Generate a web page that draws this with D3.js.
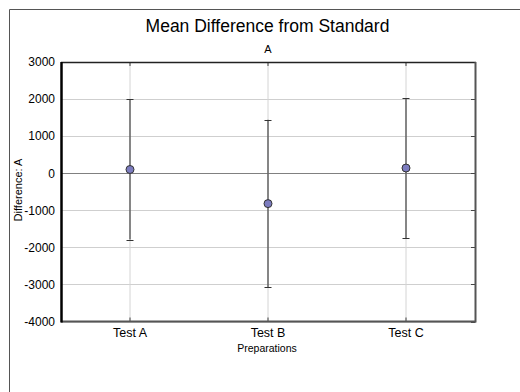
<!DOCTYPE html>
<html><head><meta charset="utf-8">
<script src="https://cdn.jsdelivr.net/npm/d3@7"></script>
<style>body{margin:0;background:#fff}svg{display:block;font-family:"Liberation Sans",Arial,sans-serif}</style>
</head><body>
<svg id="c" width="520" height="392"></svg>
<script>
const categories = ["Test A", "Test B", "Test C"];
const means = [100, -820, 140];
const upper = [1990, 1440, 2030];
const lower = [-1790, -3080, -1750];
const yTicks = [3000, 2000, 1000, 0, -1000, -2000, -3000, -4000];

const svg = d3.select("#c");
const L = 61, T = 62, R = 475, B = 321.5;
const x = d3.scaleBand().domain(categories).range([L, R]);
const y = d3.scaleLinear().domain([-4000, 3000]).range([B, T]);
const cx = d => x(d) + x.bandwidth() / 2;
const FF = "Liberation Sans, Arial, sans-serif";

// outer frame
svg.append("path").attr("d", "M9.5,392 V9.5 H520").attr("fill", "none").attr("stroke", "#555").attr("stroke-width", 1);

// grid
svg.append("g").selectAll("line").data(yTicks).join("line")
  .attr("x1", L).attr("x2", R).attr("y1", d => Math.round(y(d)) + 0.5).attr("y2", d => Math.round(y(d)) + 0.5)
  .attr("stroke", d => d === 0 ? "#808080" : "#cfcfcf").attr("stroke-width", 1);
svg.append("g").selectAll("line").data(categories).join("line")
  .attr("x1", d => cx(d)).attr("x2", d => cx(d)).attr("y1", T).attr("y2", B)
  .attr("stroke", "#d4d4d4");

// inner ticks right side and top/bottom
svg.append("g").selectAll("line").data(yTicks).join("line")
  .attr("x1", R - 4).attr("x2", R).attr("y1", d => Math.round(y(d)) + 0.5).attr("y2", d => Math.round(y(d)) + 0.5)
  .attr("stroke", "#444");
svg.append("g").selectAll("line").data(categories).join("line")
  .attr("x1", d => cx(d)).attr("x2", d => cx(d)).attr("y1", T).attr("y2", T + 4).attr("stroke", "#444");
svg.append("g").selectAll("line").data(categories).join("line")
  .attr("x1", d => cx(d)).attr("x2", d => cx(d)).attr("y1", B - 4).attr("y2", B).attr("stroke", "#444");

// plot border
svg.append("line").attr("x1", L).attr("x2", R + 1).attr("y1", T + 0.5).attr("y2", T + 0.5).attr("stroke", "#222").attr("stroke-width", 1.5);
svg.append("line").attr("x1", R + 0.5).attr("x2", R + 0.5).attr("y1", T).attr("y2", B + 1).attr("stroke", "#555").attr("stroke-width", 2);
svg.append("line").attr("x1", L).attr("x2", R + 1).attr("y1", B).attr("y2", B).attr("stroke", "#555").attr("stroke-width", 2);
svg.append("line").attr("x1", L + 0.5).attr("x2", L + 0.5).attr("y1", T).attr("y2", B + 1).attr("stroke", "#000").attr("stroke-width", 2.5);

// y axis labels
const yAxis = d3.axisLeft(y).tickValues(yTicks).tickSize(0).tickPadding(5).tickFormat(d => String(d));
const ya = svg.append("g").attr("transform", `translate(${L - 1},0)`).call(yAxis);
ya.select(".domain").remove();
ya.selectAll("text").attr("font-size", 12).attr("fill", "#000").attr("font-family", FF);

// x axis labels
const xAxis = d3.axisBottom(x).tickSize(0).tickPadding(7);
const xa = svg.append("g").attr("transform", `translate(0,${B})`).call(xAxis);
xa.select(".domain").remove();
xa.selectAll("text").attr("font-size", 12.5).attr("fill", "#000").attr("font-family", FF);

// error bars
const eb = svg.append("g");
categories.forEach((c, i) => {
  const px = cx(c);
  eb.append("line").attr("x1", px).attr("x2", px).attr("y1", y(upper[i])).attr("y2", y(lower[i])).attr("stroke", "#444").attr("stroke-width", 1.2);
  eb.append("line").attr("x1", px - 3.5).attr("x2", px + 3.5).attr("y1", Math.round(y(upper[i])) + 0.5).attr("y2", Math.round(y(upper[i])) + 0.5).attr("stroke", "#333");
  eb.append("line").attr("x1", px - 3.5).attr("x2", px + 3.5).attr("y1", Math.round(y(lower[i])) + 0.5).attr("y2", Math.round(y(lower[i])) + 0.5).attr("stroke", "#333");
});
svg.append("g").selectAll("circle").data(categories).join("circle")
  .attr("cx", d => cx(d)).attr("cy", (d, i) => y(means[i])).attr("r", 4)
  .attr("fill", "#7c7cbf").attr("stroke", "#333").attr("stroke-width", 1);

// titles
svg.append("text").attr("x", 267.5).attr("y", 32).attr("text-anchor", "middle").attr("font-size", 17.5).attr("font-family", FF).text("Mean Difference from Standard");
svg.append("text").attr("x", 268).attr("y", 53).attr("text-anchor", "middle").attr("font-size", 11).attr("font-family", FF).text("A");
svg.append("text").attr("x", 267).attr("y", 352).attr("text-anchor", "middle").attr("font-size", 10.5).attr("font-family", FF).text("Preparations");
svg.append("text").attr("transform", "translate(22,190) rotate(-90)").attr("text-anchor", "middle").attr("font-size", 11).attr("font-family", FF).text("Difference: A");
</script>
</body></html>
